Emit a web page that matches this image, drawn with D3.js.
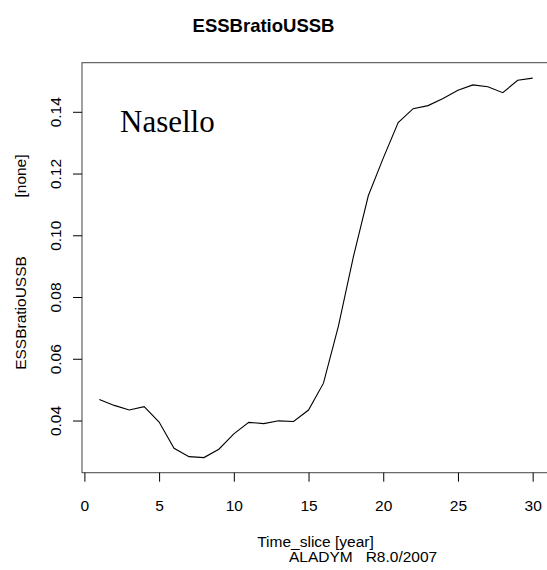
<!DOCTYPE html>
<html>
<head>
<meta charset="utf-8">
<script src="https://cdn.jsdelivr.net/npm/d3@7"></script>
<style>
  html, body { margin: 0; padding: 0; background: #fff; }
  svg { display: block; }
  text { font-family: "Liberation Sans", Arial, sans-serif; fill: #000; }
</style>
</head>
<body>
<svg id="chart" width="547" height="570"></svg>
<script>
// ---- data ----
const timeSlice = [1,2,3,4,5,6,7,8,9,10,11,12,13,14,15,16,17,18,19,20,21,22,23,24,25,26,27,28,29,30];
const ratio = [0.0468,0.0449,0.0434,0.0445,0.0395,0.0310,0.0283,0.0280,0.0307,0.0357,
               0.0394,0.0390,0.0399,0.0397,0.0434,0.0521,0.0706,0.0930,0.1128,0.1250,
               0.1365,0.1410,0.1420,0.1443,0.1470,0.1487,0.1481,0.1462,0.1502,0.1509];
const xTicks = [0,5,10,15,20,25,30];
const yTicks = [0.04,0.06,0.08,0.10,0.12,0.14];
const titleText = "ESSBratioUSSB";
const xLabel = "Time_slice [year]";
const yLabel = "ESSBratioUSSB";
const yUnit = "[none]";
const footer = "ALADYM   R8.0/2007";
const annotation = "Nasello";

const svg = d3.select("#chart");
const L = 82, R = 550, T = 62.7, B = 472.7;

const x = d3.scaleLinear().domain([-0.16, 31.16]).range([L, R]);
const y = d3.scaleLinear().domain([0.0231, 0.1559]).range([B, T]);

// box
svg.append("rect").attr("x", L).attr("y", T).attr("width", R - L).attr("height", B - T)
  .attr("fill", "none").attr("stroke", "#444").attr("stroke-width", 1);

// x axis
const gx = svg.append("g").attr("transform", `translate(0,${B})`)
  .call(d3.axisBottom(x).tickValues(xTicks).tickFormat(d3.format("d")).tickSize(9).tickSizeOuter(0));
gx.select(".domain").remove();
gx.selectAll("line").attr("stroke", "#000");
gx.selectAll("text").attr("font-size", "15.5px").attr("y", 38).attr("dy", 0);

// y axis
const gy = svg.append("g").attr("transform", `translate(${L},0)`)
  .call(d3.axisLeft(y).tickValues(yTicks).tickFormat(d3.format(".2f")).tickSize(9).tickSizeOuter(0));
gy.select(".domain").remove();
gy.selectAll("line").attr("stroke", "#000");
gy.selectAll("text").attr("font-size", "15.5px")
  .attr("transform", "rotate(-90)").attr("text-anchor", "middle")
  .attr("x", 0).attr("y", -21).attr("dy", 0);

// line
svg.append("path")
  .datum(timeSlice.map((t, i) => [t, ratio[i]]))
  .attr("fill", "none").attr("stroke", "#000").attr("stroke-width", 1.1)
  .attr("d", d3.line().x(d => x(d[0])).y(d => y(d[1])));

// title
svg.append("text").attr("x", 263.5).attr("y", 32).attr("text-anchor", "middle")
  .attr("font-size", "18.5px").attr("font-weight", "bold").text(titleText);

// annotation
svg.append("text").attr("x", 120).attr("y", 131.5)
  .style("font-family", "'Liberation Serif', 'Times New Roman', serif")
  .attr("font-size", "31px").text(annotation);

// x label + footer
svg.append("text").attr("x", 315.5).attr("y", 547).attr("text-anchor", "middle")
  .attr("font-size", "15.5px").text(xLabel);
svg.append("text").attr("x", 289).attr("y", 562).attr("text-anchor", "start")
  .attr("font-size", "15.5px").style("white-space", "pre").text(footer);

// y labels
svg.append("text").attr("transform", "translate(26,313) rotate(-90)").attr("text-anchor", "middle")
  .attr("font-size", "15.5px").text(yLabel);
svg.append("text").attr("transform", "translate(26,176) rotate(-90)").attr("text-anchor", "middle")
  .attr("font-size", "15.5px").text(yUnit);
</script>
</body>
</html>
